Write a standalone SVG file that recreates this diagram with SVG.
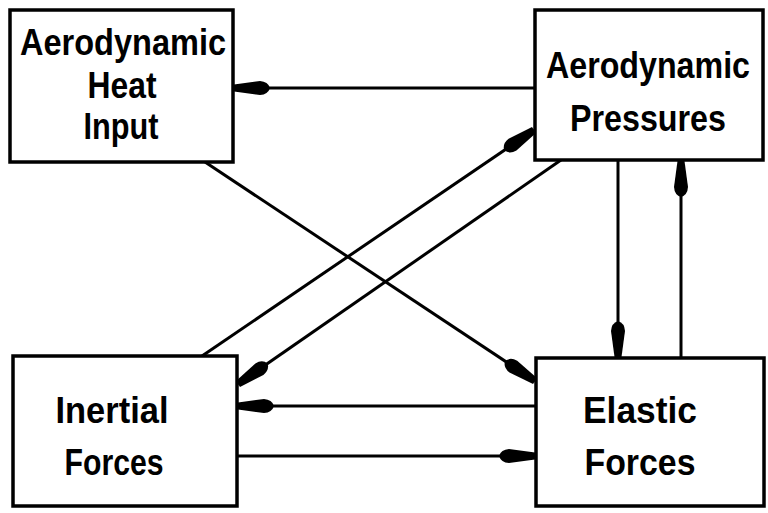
<svg xmlns="http://www.w3.org/2000/svg" width="768" height="513" viewBox="0 0 768 513">
<style>
.box{fill:#fff;stroke:#000;stroke-width:3.5}
.lbl{font-family:"Liberation Sans",Arial,sans-serif;font-weight:bold;font-size:36px;fill:#000}
.con{fill:none;stroke:#000;stroke-width:3;marker-end:url(#ah)}
</style>
<defs>
<marker id="ah" markerUnits="userSpaceOnUse" markerWidth="50" markerHeight="20" viewBox="-40 -10 50 20" refX="0" refY="0" orient="auto" overflow="visible">
<path d="M0,-3.5 L-26,-7 Q-34,-6.5 -36,0 Q-34,6.5 -26,7 L0,3.5 Z" fill="#000"/>
</marker>
</defs>
<rect width="768" height="513" fill="#fff"/>
<g id="connectors">
<path class="con" d="M535,88 L234,88"/>
<path class="con" d="M205,162 L535,381"/>
<path class="con" d="M202,356 L534,130"/>
<path class="con" d="M561,160 L238,384"/>
<path class="con" d="M536,406 L238,406"/>
<path class="con" d="M237,456 L535,456"/>
<path class="con" d="M618,160 L618,357"/>
<path class="con" d="M681,358 L681,161"/>
</g>
<g id="heat">
<rect class="box" x="10" y="10" width="223" height="152"/>
<text class="lbl" x="123" y="55" text-anchor="middle" textLength="206" lengthAdjust="spacingAndGlyphs">Aerodynamic</text>
<text class="lbl" x="122" y="98" text-anchor="middle" textLength="69" lengthAdjust="spacingAndGlyphs">Heat</text>
<text class="lbl" x="121" y="139" text-anchor="middle" textLength="75" lengthAdjust="spacingAndGlyphs">Input</text>
</g>
<g id="pressures">
<rect class="box" x="535" y="10" width="228" height="150"/>
<text class="lbl" x="648" y="78" text-anchor="middle" textLength="204" lengthAdjust="spacingAndGlyphs">Aerodynamic</text>
<text class="lbl" x="648" y="131" text-anchor="middle" textLength="156" lengthAdjust="spacingAndGlyphs">Pressures</text>
</g>
<g id="inertial">
<rect class="box" x="13" y="356" width="224" height="150"/>
<text class="lbl" x="112" y="423" text-anchor="middle" textLength="113" lengthAdjust="spacingAndGlyphs">Inertial</text>
<text class="lbl" x="114" y="475" text-anchor="middle" textLength="99" lengthAdjust="spacingAndGlyphs">Forces</text>
</g>
<g id="elastic">
<rect class="box" x="536" y="358" width="228" height="148"/>
<text class="lbl" x="640" y="423" text-anchor="middle" textLength="114" lengthAdjust="spacingAndGlyphs">Elastic</text>
<text class="lbl" x="640" y="475" text-anchor="middle" textLength="111" lengthAdjust="spacingAndGlyphs">Forces</text>
</g>
</svg>
